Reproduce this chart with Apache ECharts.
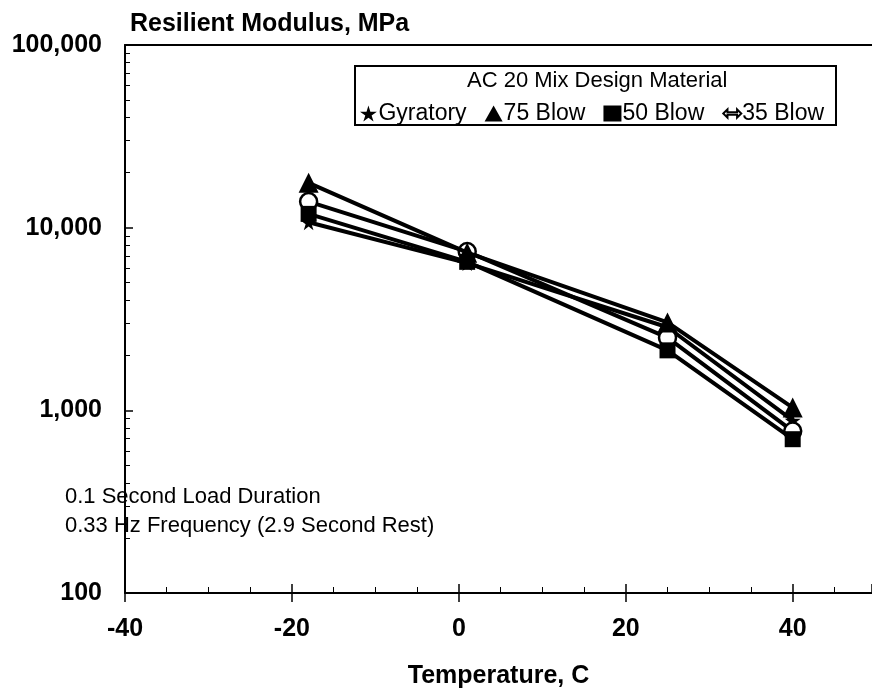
<!DOCTYPE html>
<html>
<head>
<meta charset="utf-8">
<script src="https://cdn.jsdelivr.net/npm/echarts@6/dist/echarts.min.js"></script>
<style>
html,body{margin:0;padding:0;background:#fff;}
#chart{width:872px;height:696px;}
</style>
</head>
<body>
<div id="chart"></div>
<script>
// ---- data ----
var temperatures = [-18, 1, 25, 40];
var gyratory = [10700, 6400, 2850, 880];
var blow75 = [17600, 7300, 3030, 1035];
var blow50 = [11900, 6500, 2130, 695];
var blow35 = [13900, 7400, 2500, 770];
var seriesNames = ['Gyratory', '75 Blow', '50 Blow', '35 Blow'];
var xTicks = [-40, -20, 0, 20, 40];
var legendTitle = 'AC 20 Mix Design Material';
var yTitle = 'Resilient Modulus, MPa';
var xTitle = 'Temperature, C';
var note1 = '0.1 Second Load Duration';
var note2 = '0.33 Hz Frequency (2.9 Second Rest)';

var FONT = '"Liberation Sans", Arial, sans-serif';
var starPath = 'path://M50,0 L61,35 L98,35 L68,57 L79,91 L50,70 L21,91 L32,57 L2,35 L39,35 Z';
var arrowPath = 'path://M0,10 L7,3 L7,8 L23,8 L23,3 L30,10 L23,17 L23,12 L7,12 L7,17 Z';

function pairs(vals) {
  return temperatures.map(function (t, i) { return [t, vals[i]]; });
}
function fmt(v) {
  return String(Math.round(v)).replace(/\B(?=(\d{3})+(?!\d))/g, ',');
}

var chart = echarts.init(document.getElementById('chart'), null, {renderer: 'canvas'});

function mkSeries(name, vals, symbol, size, z, itemStyle) {
  return {
    name: name,
    type: 'line',
    xAxisIndex: 0,
    data: pairs(vals),
    symbol: symbol,
    symbolSize: size,
    showSymbol: true,
    lineStyle: {color: '#000', width: 4},
    itemStyle: itemStyle || {color: '#000'},
    z: z,
    animation: false
  };
}

var X_MIN = -40, X_MAX = 49.5;

var option = {
  animation: false,
  backgroundColor: '#fff',
  title: {
    text: yTitle,
    left: 125,
    top: 7,
    textStyle: {fontFamily: FONT, fontSize: 25, fontWeight: 'bold', color: '#000'}
  },
  grid: {
    left: 125, top: 45, width: 747, height: 548,
    show: false
  },
  legend: {
    left: 355,
    top: 97,
    itemWidth: 18,
    itemHeight: 16,
    itemGap: 18,
    textStyle: {fontFamily: FONT, fontSize: 23, color: '#000', padding: [0, 0, 0, -4]},
    data: [
      {name: seriesNames[0], icon: starPath},
      {name: seriesNames[1], icon: 'triangle'},
      {name: seriesNames[2], icon: 'rect'},
      {name: seriesNames[3], icon: arrowPath}
    ],
    selectedMode: false
  },
  xAxis: [
    {
      type: 'value', min: X_MIN, max: X_MAX, interval: 20,
      position: 'bottom',
      axisLine: {show: true, onZero: false, lineStyle: {color: '#000', width: 2}},
      axisTick: {show: true, inside: false, length: 9, lineStyle: {color: '#000', width: 1.5}},
      axisLabel: {
        show: true, margin: 24, color: '#000', fontFamily: FONT, fontSize: 25, fontWeight: 'bold',
        showMaxLabel: false,
        formatter: function (v) { return xTicks.indexOf(v) >= 0 ? String(v) : ''; }
      },
      splitLine: {show: false},
      name: xTitle,
      nameLocation: 'middle',
      nameGap: 71,
      nameTextStyle: {fontFamily: FONT, fontSize: 25, fontWeight: 'bold', color: '#000'}
    },
    {
      type: 'value', min: X_MIN, max: X_MAX, interval: 20,
      position: 'bottom',
      axisLine: {show: false, onZero: false},
      axisTick: {show: true, inside: true, length: 9, lineStyle: {color: '#000', width: 1.5}},
      minorTick: {show: true, splitNumber: 4, length: 6, lineStyle: {color: '#000', width: 1}},
      axisLabel: {show: false},
      splitLine: {show: false}
    },
    {
      type: 'value', min: X_MIN, max: X_MAX,
      position: 'top',
      axisLine: {show: true, onZero: false, lineStyle: {color: '#000', width: 2}},
      axisTick: {show: false},
      axisLabel: {show: false},
      splitLine: {show: false}
    }
  ],
  yAxis: {
    type: 'log', logBase: 10, min: 100, max: 100000,
    axisLine: {show: true, onZero: false, lineStyle: {color: '#000', width: 2}},
    axisTick: {show: true, inside: true, length: 8, lineStyle: {color: '#000', width: 1.5}},
    minorTick: {show: true, splitNumber: 9, length: 5, lineStyle: {color: '#000', width: 1}},
    splitLine: {show: false},
    axisLabel: {
      margin: 23, color: '#000', fontFamily: FONT, fontSize: 25, fontWeight: 'bold',
      formatter: function (v) { return fmt(v); }
    }
  },
  graphic: [
    {
      type: 'rect', left: 354, top: 65, z: 10,
      shape: {width: 481, height: 59},
      style: {fill: 'transparent', stroke: '#000', lineWidth: 2}
    },
    {
      type: 'text', left: 467, top: 70, z: 11,
      style: {text: legendTitle, font: '22px ' + FONT, fill: '#000'}
    },
    {
      type: 'text', left: 65, top: 486, z: 11,
      style: {text: note1, font: '22px ' + FONT, fill: '#000'}
    },
    {
      type: 'text', left: 65, top: 515, z: 11,
      style: {text: note2, font: '22px ' + FONT, fill: '#000'}
    }
  ],
  series: [
    mkSeries(seriesNames[0], gyratory, starPath, 16, 2),
    mkSeries(seriesNames[1], blow75, 'triangle', 20, 5),
    mkSeries(seriesNames[2], blow50, 'rect', 16, 4),
    mkSeries(seriesNames[3], blow35, 'circle', 17, 3, {color: '#fff', borderColor: '#000', borderWidth: 2.5})
  ]
};
chart.setOption(option);
</script>
</body>
</html>
